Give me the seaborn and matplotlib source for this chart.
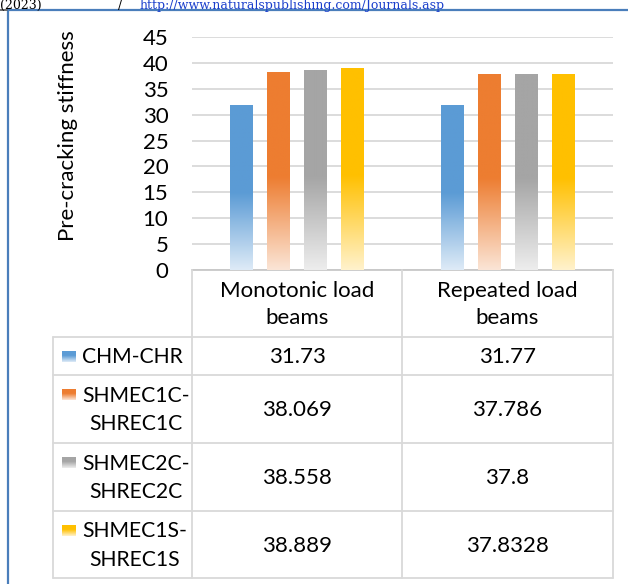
import matplotlib
matplotlib.use('Agg')
import matplotlib.pyplot as plt
import matplotlib.colors as mcolors
import numpy as np
import pandas as pd
import seaborn as sns

# Data
categories = ['Monotonic load\nbeams', 'Repeated load\nbeams']
series = ['CHM-CHR', 'SHMEC1C-\nSHREC1C', 'SHMEC2C-\nSHREC2C', 'SHMEC1S-\nSHREC1S']
monotonic = [31.73, 38.069, 38.558, 38.889]
repeated = [31.77, 37.786, 37.8, 37.8328]
yticks = [0, 5, 10, 15, 20, 25, 30, 35, 40, 45]

colors = ['#5B9BD5', '#ED7D31', '#A5A5A5', '#FFC000']
light = ['#DEEBF7', '#FBE5D6', '#EDEDED', '#FFF2CC']

sns.set_style('white')
plt.rcParams['font.family'] = ['Lato', 'DejaVu Sans']
txt_col = '#000000'
grid_col = '#d9d9d9'
FS = 16

rows = []
for cat, vals in zip(categories, [monotonic, repeated]):
    for s, v in zip(series, vals):
        rows.append({'load': cat, 'series': s, 'stiffness': v})
df = pd.DataFrame(rows)

W, H = 628, 584
fig = plt.figure(figsize=(W / 100, H / 100), dpi=100)

# pixel geometry of the plot area
ax_l, ax_r, ax_t, ax_b = 192, 613, 37, 270
ax = fig.add_axes([ax_l / W, 1 - ax_b / H, (ax_r - ax_l) / W, (ax_b - ax_t) / H])

sns.barplot(data=df, x='load', y='stiffness', hue='series', hue_order=series,
            order=categories, palette=colors, width=0.703, gap=0.39,
            legend=False, ax=ax, zorder=3)

# replace flat bars with the Excel-like vertical gradient
def grad_array(full, pale, n=200, stop=0.47):
    f = np.array(mcolors.to_rgb(full))
    p = np.array(mcolors.to_rgb(pale))
    t = np.linspace(0, 1, n)
    m = np.clip(t / stop, 0, 1)[:, None]
    return (p + (f - p) * m)[:, None, :]

pal_rgb = [mcolors.to_rgb(c) for c in colors]
for p in list(ax.patches):
    fc = p.get_facecolor()[:3]
    idx = int(np.argmin([sum((a - b) ** 2 for a, b in zip(fc, c)) for c in pal_rgb]))
    x0, w, h = p.get_x(), p.get_width(), p.get_height()
    ax.imshow(grad_array(colors[idx], light[idx]), extent=(x0, x0 + w, 0, h),
              origin='lower', aspect='auto', interpolation='bilinear', zorder=3)
    p.set_facecolor('none')
    p.set_edgecolor('none')

ax.set_xlim(-0.5, 1.5)
ax.set_ylim(0, 45)
ax.set_yticks(yticks)
ax.set_xticks([])
ax.set_xlabel('')
ax.grid(axis='y', color=grid_col, linewidth=1.3, zorder=0)
for s in ['top', 'right', 'left']:
    ax.spines[s].set_visible(False)
ax.spines['bottom'].set_color('#c8c8c8')
ax.spines['bottom'].set_linewidth(1.3)
ax.tick_params(axis='y', length=0, pad=17, labelsize=FS, labelcolor=txt_col)
ax.set_ylabel('Pre-cracking stiffness', fontsize=FS, color=txt_col)
ax.yaxis.label.set_va('center')
ax.yaxis.set_label_coords((68 - ax_l) / (ax_r - ax_l), (ax_b - 135.5) / (ax_b - ax_t))

# overlay in pixel coordinates for the data table and page frame
ov = fig.add_axes([0, 0, 1, 1])
ov.set_xlim(0, W)
ov.set_ylim(H, 0)
ov.axis('off')
ov.patch.set_alpha(0)

col_x = [53, 192, 402, 613]
row_y = [270, 337, 375, 443, 511, 578]
lw = 1.3
for x in col_x[1:]:
    ov.plot([x, x], [row_y[0], row_y[-1]], color=grid_col, lw=lw)
ov.plot([col_x[0], col_x[0]], [row_y[1], row_y[-1]], color=grid_col, lw=lw)
for y in row_y[1:]:
    ov.plot([col_x[0], col_x[-1]], [y, y], color=grid_col, lw=lw)

LS = 1.45
hy = (row_y[0] + row_y[1]) / 2
for j, cat in enumerate(categories):
    cx = (col_x[j + 1] + col_x[j + 2]) / 2
    ov.text(cx, hy + 1, cat, ha='center', va='center', fontsize=FS,
            color=txt_col, linespacing=LS, multialignment='center')

for i, s in enumerate(series):
    cy = (row_y[i + 1] + row_y[i + 2]) / 2
    nl = s.count('\n') + 1
    ov.text(82, cy + 1, s, ha='left', va='center', fontsize=15.2, color=txt_col,
            linespacing=1.53, multialignment='center')
    ky = cy - (nl - 1) * 15 + 1
    key = grad_array(colors[i], light[i], n=50, stop=0.6)[::-1]
    ov.imshow(key, extent=(62, 76, ky + 5.5, ky - 5.5), origin='upper',
              aspect='auto', interpolation='bilinear')
    for j, vals in enumerate([monotonic, repeated]):
        cx = (col_x[j + 1] + col_x[j + 2]) / 2
        ov.text(cx, cy + 1, str(vals[i]), ha='center', va='center',
                fontsize=FS, color=txt_col)

# page frame and the running header above it
frame = '#4a7ebb'
ov.plot([8, W], [10, 10], color=frame, lw=1.6)
ov.plot([8, 8], [10, H], color=frame, lw=1.6)
ov.plot([0, 7], [10, 10], color='#555555', lw=1.2)
hdr = dict(va='baseline', fontsize=9, family='DejaVu Serif')
ov.text(0, 8.5, '(2023)', ha='left', color='#000000', **hdr)
ov.text(118, 8.5, '/', ha='left', color='#000000', **hdr)
ov.text(140, 8.5, 'http://www.naturalspublishing.com/Journals.asp', ha='left',
        color='#1a3fcc', **hdr)
ov.set_xlim(0, W)
ov.set_ylim(H, 0)

fig.savefig('out.png', dpi=100)
